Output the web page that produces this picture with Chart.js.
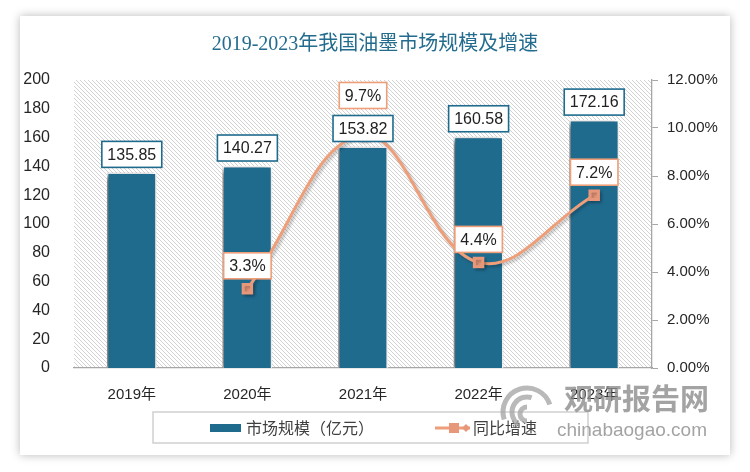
<!DOCTYPE html>
<html>
<head>
<meta charset="utf-8">
<script src="https://cdn.jsdelivr.net/npm/chart.js@4"></script>
<style>
    html, body { margin: 0; padding: 0; background: #ffffff; }
    #tarjeta {
        position: absolute; left: 20px; top: 16px; width: 710px; height: 439px;
        background: #ffffff; box-shadow: 0 0 9px rgba(0, 0, 0, 0.28);
    }
    #contenedor { position: absolute; left: 0; top: 0; width: 750px; height: 472px; }
</style>
</head>
<body>
<div id="tarjeta"></div>
<div id="contenedor"><canvas id="graficoOlio" width="750" height="472"></canvas></div>
<script>
// Datos del gráfico
const anios = ['2019年', '2020年', '2021年', '2022年', '2023年'];
const tamanoMercado = [135.85, 140.27, 153.82, 160.58, 172.16];   // 亿元
const crecimiento = [null, 3.3, 9.7, 4.4, 7.2];                    // %
const titulo = '2019-2023年我国油墨市场规模及增速';
const nombreBarras = '市场规模（亿元）';
const nombreLinea = '同比增速';

const AZUL = '#1F6B8E';
const NARANJA = '#EE9E78';
const fuenteTicks = "'Liberation Sans', 'Noto Sans CJK SC', sans-serif";
const fuenteCJK = "'Noto Sans CJK SC', sans-serif";

// Textura rayada del fondo del área de trazado
function crearRayado() {
    const c = document.createElement('canvas');
    c.width = 4; c.height = 4;
    const g = c.getContext('2d');
    g.fillStyle = '#ffffff';
    g.fillRect(0, 0, 4, 4);
    g.strokeStyle = '#d2d2d2';
    g.lineWidth = 1;
    g.beginPath();
    g.moveTo(-1, -1); g.lineTo(5, 5);
    g.moveTo(-1, 3); g.lineTo(1, 5);
    g.moveTo(3, -1); g.lineTo(5, 1);
    g.stroke();
    return c;
}

const pluginFondo = {
    id: 'fondo',
    beforeDraw(chart) {
        const { ctx, chartArea: a } = chart;
        ctx.save();
        ctx.fillStyle = ctx.createPattern(crearRayado(), 'repeat');
        ctx.fillRect(a.left, a.top, a.right - a.left, a.bottom - a.top);
        ctx.restore();
    }
};

// Sombras de barras y línea
const pluginSombras = {
    id: 'sombras',
    beforeDatasetDraw(chart, args) {
        const ctx = chart.ctx;
        ctx.save();
        if (args.meta.type === 'bar') {
            ctx.shadowColor = 'rgba(0, 0, 0, 0.6)';
            ctx.shadowBlur = 6;
            ctx.shadowOffsetX = -3;
            ctx.shadowOffsetY = 2;
        } else {
            ctx.shadowColor = 'rgba(0, 0, 0, 0.25)';
            ctx.shadowBlur = 3;
            ctx.shadowOffsetX = 2;
            ctx.shadowOffsetY = 2;
        }
    },
    afterDatasetDraw(chart) {
        chart.ctx.restore();
    }
};

function cajaEtiqueta(ctx, texto, cx, abajo) {
    ctx.font = '16px ' + fuenteTicks;
    const ancho = ctx.measureText(texto).width + 11;
    const alto = 26;
    return { left: cx - ancho / 2, top: abajo - alto, width: ancho, height: alto };
}

function pintarCaja(ctx, texto, caja, borde) {
    ctx.fillStyle = '#ffffff';
    ctx.fillRect(caja.left, caja.top, caja.width, caja.height);
    ctx.strokeStyle = borde;
    ctx.lineWidth = 1.6;
    ctx.strokeRect(caja.left, caja.top, caja.width, caja.height);
    ctx.fillStyle = '#222222';
    ctx.font = '16px ' + fuenteTicks;
    ctx.textAlign = 'center';
    ctx.textBaseline = 'middle';
    ctx.fillText(texto, caja.left + caja.width / 2, caja.top + caja.height / 2 + 1);
}

// Etiquetas de datos con recuadro
const pluginEtiquetas = {
    id: 'etiquetas',
    afterDatasetsDraw(chart) {
        const ctx = chart.ctx;
        const barras = chart.getDatasetMeta(1);
        const linea = chart.getDatasetMeta(0);
        ctx.save();
        const cajasBarras = [];
        barras.data.forEach((el, i) => {
            const texto = tamanoMercado[i].toFixed(2);
            const caja = cajaEtiqueta(ctx, texto, el.x, el.y - 5);
            cajasBarras[i] = caja;
            pintarCaja(ctx, texto, caja, AZUL);
        });
        linea.data.forEach((el, i) => {
            if (crecimiento[i] === null) return;
            const texto = crecimiento[i].toFixed(1) + '%';
            let caja = cajaEtiqueta(ctx, texto, el.x, el.y - 10);
            const cb = cajasBarras[i];
            if (cb && caja.top < cb.top + cb.height && caja.top + caja.height > cb.top) {
                caja = cajaEtiqueta(ctx, texto, el.x, cb.top - 7);
            }
            pintarCaja(ctx, texto, caja, NARANJA);
        });
        ctx.restore();
    }
};

// Leyenda con marco y marca de agua
const pluginLeyenda = {
    id: 'leyenda',
    afterDraw(chart) {
        const ctx = chart.ctx;
        ctx.save();
        ctx.strokeStyle = '#cfcfcf';
        ctx.lineWidth = 1.5;
        ctx.strokeRect(153, 412, 435, 31);

        const yc = 428;
        ctx.fillStyle = AZUL;
        ctx.fillRect(210, yc - 4, 31, 8);
        ctx.fillStyle = '#404040';
        ctx.font = '16px ' + fuenteCJK;
        ctx.textAlign = 'left';
        ctx.textBaseline = 'middle';
        ctx.fillText(chart.data.datasets[1].label, 246, yc);

        ctx.strokeStyle = NARANJA;
        ctx.lineWidth = 3;
        ctx.beginPath();
        ctx.moveTo(435, yc); ctx.lineTo(470, yc);
        ctx.stroke();
        ctx.fillStyle = '#E8987A';
        ctx.fillRect(449, yc - 5, 10, 10);
        ctx.beginPath();
        ctx.moveTo(466, yc - 4); ctx.lineTo(470, yc); ctx.lineTo(466, yc + 4); ctx.lineTo(462, yc);
        ctx.closePath(); ctx.fill();
        ctx.fillStyle = '#404040';
        ctx.fillText(chart.data.datasets[0].label, 473, yc);

        // marca de agua
        ctx.globalAlpha = 0.8;
        ctx.strokeStyle = '#a8a8a8';
        ctx.lineWidth = 5;
        ctx.beginPath(); ctx.arc(527, 412, 24, Math.PI * 0.9, Math.PI * 1.9); ctx.stroke();
        ctx.beginPath(); ctx.arc(527, 412, 15, Math.PI * 0.7, Math.PI * 1.6); ctx.stroke();
        ctx.beginPath(); ctx.arc(527, 414, 7, Math.PI * 0.5, Math.PI * 1.5); ctx.stroke();
        ctx.fillStyle = '#8c8c8c';
        ctx.font = 'bold 29px ' + fuenteCJK;
        ctx.textAlign = 'left';
        ctx.fillText('观研报告网', 564, 399);
        ctx.font = '19px ' + fuenteTicks;
        ctx.fillText('chinabaogao.com', 557, 431);
        ctx.restore();
    }
};

new Chart(document.getElementById('graficoOlio'), {
    data: {
        labels: anios,
        datasets: [{
            type: 'line',
            label: nombreLinea,
            data: crecimiento,
            yAxisID: 'y1',
            borderColor: NARANJA,
            borderWidth: 3,
            tension: 0.4,
            pointStyle: 'rect',
            pointRadius: 6,
            pointBackgroundColor: '#E8987A',
            pointBorderColor: '#E8987A',
            order: 0
        }, {
            type: 'bar',
            label: nombreBarras,
            data: tamanoMercado,
            yAxisID: 'y',
            backgroundColor: AZUL,
            borderColor: '#ffffff',
            borderWidth: 1.5,
            categoryPercentage: 1,
            barPercentage: 0.43,
            order: 1
        }]
    },
    options: {
        responsive: false,
        animation: false,
        layout: { padding: { top: 16, left: 20, right: 20, bottom: 64 } },
        plugins: {
            legend: { display: false },
            tooltip: { enabled: false },
            title: {
                display: true,
                text: titulo,
                color: '#236C8E',
                font: { family: "'Liberation Serif', 'Noto Sans CJK SC', serif", size: 20, weight: 'normal' },
                padding: { top: 17, bottom: 23 }
            }
        },
        scales: {
            x: {
                grid: { display: false },
                border: { display: true, color: '#a6a6a6', width: 1.3 },
                ticks: { color: '#262626', font: { family: fuenteTicks, size: 15 }, padding: 10 },
                afterFit(s) { s.height = 40; }
            },
            y: {
                position: 'left',
                min: 0, max: 200,
                grid: { display: false },
                border: { display: false },
                ticks: { stepSize: 20, color: '#262626', font: { family: fuenteTicks, size: 16 }, padding: 16 },
                afterFit(s) { s.width = 54; }
            },
            y1: {
                position: 'right',
                min: 0, max: 12,
                grid: { drawOnChartArea: false, drawTicks: true, tickLength: 6, color: '#a6a6a6' },
                border: { display: true, color: '#a6a6a6', width: 1.3 },
                ticks: {
                    stepSize: 2, color: '#262626', font: { family: fuenteTicks, size: 15 }, padding: 9,
                    callback: v => v.toFixed(2) + '%'
                },
                afterFit(s) { s.width = 78; }
            }
        }
    },
    plugins: [pluginFondo, pluginSombras, pluginEtiquetas, pluginLeyenda]
});
</script>
</body>
</html>
